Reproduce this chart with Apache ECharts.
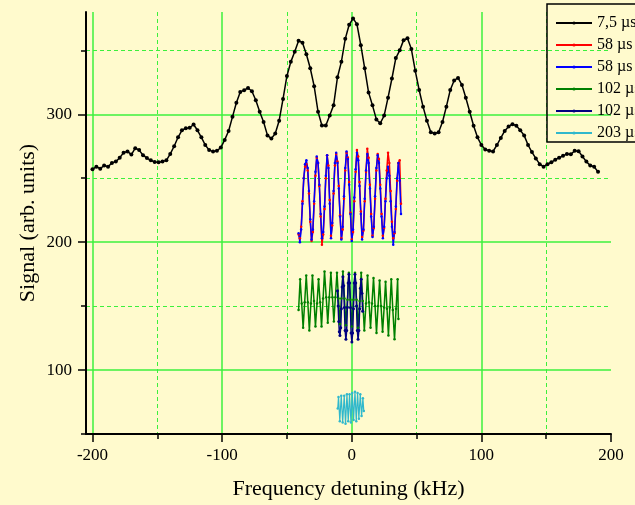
<!DOCTYPE html>
<html>
<head>
<meta charset="utf-8">
<script src="https://cdn.jsdelivr.net/npm/echarts@6/dist/echarts.min.js"></script>
<style>
html,body{margin:0;padding:0;background:#FFFACD;}
#chart{width:635px;height:505px;}
</style>
</head>
<body>
<div id="chart"></div>
<script>
// ---------------- data ----------------
const legendNames = ['7,5 µs', '58 µs', '58 µs ', '102 µs', '102 µs ', '203 µs'];

const xMajorTicks = [-200, -100, 0, 100, 200];
const xMinorTicks = [-150, -50, 50, 150];
const yMajorTicks = [100, 200, 300];
const yMinorTicks = [50, 150, 250, 350];

// 7,5 µs
const freq75 = [-200,-197,-194,-191,-188,-185,-182,-179,-176,-173,-170,-167,-164,-161,-158,-155,-152,-149,-146,-143,
  -140,-137,-134,-131,-128,-125,-122,-119,-116,-113,-110,-107,-104,-101,-98,-95,-92,-89,-86,-83,
  -80,-77,-74,-71,-68,-65,-62,-59,-56,-53,-50,-47,-44,-41,-38,-35,-32,-29,-26,-23,
  -20,-17,-14,-11,-8,-5,-2,1,4,7,10,13,16,19,22,25,28,31,34,37,
  40,43,46,49,52,55,58,61,64,67,70,73,76,79,82,85,88,91,94,97,
  100,103,106,109,112,115,118,121,124,127,130,133,136,139,142,145,148,151,154,157,
  160,163,166,169,172,175,178,181,184,187,190];
const sig75 = [257,259,257.5,260,259,262,263,266,270,271,268.5,273.5,272,268,265.8,264,262.7,262.5,263,264,
  269,275,282,287.5,289,289.5,292,287.5,282,276,272,271,271.5,274,280,287,298,309,317.5,318.8,
  320.6,318,311,302,294,283.5,281,285,295,312,330,341,349,357.5,356,347,336,322,302,291.3,
  291.3,299,307,329,341,359,370,375,370.5,354,336,317,307,296,293,299,313,328,344,350,
  358,359.5,351,334,319,306,295,286,285,286,294,306,319,326.5,328.4,323,313,302,291,282,
  276,272.5,271.5,271,276,281.5,287,290.5,292.3,291,287.5,283.5,276,270.5,265.5,261,259,261,262.5,264.5,
  266,267.5,269,268.7,271.5,271.2,267,263,260,259,255];

// 58 µs (red and blue)
const freq58 = [-41,-40,-39,-38,-37,-36,-35,-34,-33,-32,-31,-30,-29,-28,-27,-26,-25,-24,-23,-22,
  -21,-20,-19,-18,-17,-16,-15,-14,-13,-12,-11,-10,-9,-8,-7,-6,-5,-4,-3,-2,
  -1,0,1,2,3,4,5,6,7,8,9,10,11,12,13,14,15,16,17,18,
  19,20,21,22,23,24,25,26,27,28,29,30,31,32,33,34,35,36,37,38];
const sig58red = [206,203,212,232,250,259,261,256,238,216,
  201,208,230,252,266,262,244,220,198,206,
  226,250,268,260,233,205,213,238,260,269,
  263,244,221,203,210,234,256,270,266,247,
  223,202,208,232,255,272,267,247,224,204,
  209,232,255,273,266,245,222,205,211,234,
  256,269,265,245,222,205,211,234,256,270,
  262,240,216,203,207,226,248,262,264,230];
const sig58blue = [207,200,210,230,250,261,264,258,240,218,
  202,210,232,255,267,262,245,222,203,208,
  228,252,268,258,230,203,215,240,262,270,
  262,242,220,202,212,236,258,271,265,245,
  222,201,210,235,257,270,264,244,222,202,
  210,234,256,269,262,242,220,204,212,236,
  258,268,262,242,220,203,212,232,250,259,
  252,232,212,198,208,228,250,262,248,222];

// 102 µs (green, wide scan)
const freq102a = [-41,-39.8,-38.6,-37.5,-36.3,-35.1,-33.9,-32.7,-31.5,-30.3,
  -29.1,-28,-26.8,-25.6,-24.4,-23.3,-22.1,-21,-19.7,-18.5,
  -17.3,-16.1,-14.9,-13.8,-12.6,-11.4,-10.2,-9.1,-8,-6.8,
  -5.6,-4.5,-3.3,-2.2,-1,0.1,1.3,2.5,3.7,4.9,
  6.1,7.3,8.5,9.7,11,12.2,13.3,14.5,15.6,16.8,
  18,19.1,20.3,21.5,22.6,23.8,25,26.1,27.2,28.3,
  29.4,30.5,31.7,33,34.2,35.4,36];
const sig102a = [147,171,152,133,153,174,153,131,152,174,
  154,134,152,171,153,134,156,177,157,137,
  157,176,157,138,157,176,156,136,156,177,
  156,135,155,176,155,134,155,176,155,133,
  154,176,154,131,152,174,153,133,152,172,
  150,129,150,170,150,130,149,169,148,127,
  149,171,147,124,148,171,140];

// 102 µs (navy, narrow scan)
const freq102b = [-11,-10.5,-10,-9.6,-9.1,-8.5,-8,-7.4,-6.8,-6.2,
  -5.7,-5.1,-4.5,-3.9,-3.4,-2.8,-2.2,-1.6,-1,-0.5,
  0.1,0.7,1.3,1.9,2.5,3.1,3.7,4.3,4.9,5.5,
  6.1,6.7,7.3,7.9,8.4];
const sig102b = [162,150,138,130,127,133,148,165,173,166,
  149,131,124,131,149,168,175,168,149,129,
  122,129,148,168,175,168,150,131,124,131,
  148,164,171,160,146];

// 203 µs (cyan)
const freq203 = [-10.8,-10.2,-9.2,-8.1,-7,-5.8,-4.8,-3.7,-2.7,-1.7,-0.6,0.4,1.4,2.5,3.5,4.5,5.5,6.6,7.6,8.6,9.3];
const sig203 = [70,79,60,80,59,80,58,81,60,81,59,82,61,83,60,82,62,81,64,78,68];

// ---------------- chart ----------------
const zip = (xs, ys) => xs.map((x, i) => [x, ys[i]]);
const GRID_GREEN = '#3CF03C';
const SERIF = '"Liberation Serif", "Times New Roman", serif';

function lineSeries(name, xs, ys, color, symbolSize, width) {
  return {
    name: name, type: 'line', data: zip(xs, ys),
    xAxisIndex: 0, yAxisIndex: 0,
    symbol: 'circle', symbolSize: symbolSize, showSymbol: true,
    lineStyle: {color: color, width: width},
    itemStyle: {color: color},
    emphasis: {disabled: true},
    animation: false
  };
}

const chart = echarts.init(document.getElementById('chart'), null, {renderer: 'canvas'});
chart.setOption({
  backgroundColor: '#FFFACD',
  animation: false,
  grid: {left: 86, right: 24, top: 12, bottom: 69},
  legend: {
    orient: 'vertical', left: 547, top: 4,
    itemWidth: 36, itemHeight: 4, itemGap: 6,
    padding: [11, 50, 1, 8],
    borderColor: '#000', borderWidth: 1.5,
    textStyle: {fontFamily: SERIF, fontSize: 16, color: '#000'},
    data: legendNames,
    selectedMode: false
  },
  xAxis: [{
    type: 'value', min: -205, max: 200, position: 'bottom',
    name: 'Frequency detuning (kHz)', nameLocation: 'middle', nameGap: 44,
    nameMoveOverlap: false,
    nameTextStyle: {fontFamily: SERIF, fontSize: 22, color: '#000'},
    axisLine: {onZero: false, lineStyle: {color: '#000', width: 2}},
    axisTick: {customValues: xMajorTicks, length: 8, lineStyle: {color: '#000', width: 1.5}},
    axisLabel: {customValues: xMajorTicks, fontFamily: SERIF, fontSize: 17, color: '#000', margin: 13},
    splitLine: {show: true, showMaxLine: false, lineStyle: {color: GRID_GREEN, width: 1.5}}
  }, {
    type: 'value', min: -205, max: 200, position: 'bottom',
    axisLine: {show: false, onZero: false},
    axisTick: {customValues: xMinorTicks, length: 5, lineStyle: {color: '#000', width: 1.5}},
    axisLabel: {show: false},
    splitLine: {show: true, lineStyle: {color: GRID_GREEN, width: 1, type: [4, 3]}}
  }],
  yAxis: [{
    type: 'value', min: 50, max: 380, position: 'left',
    name: 'Signal (arb. units)', nameLocation: 'middle', nameGap: 47,
    nameMoveOverlap: false,
    nameTextStyle: {fontFamily: SERIF, fontSize: 22, color: '#000'},
    axisLine: {onZero: false, lineStyle: {color: '#000', width: 2}},
    axisTick: {customValues: yMajorTicks, length: 8, lineStyle: {color: '#000', width: 1.5}},
    axisLabel: {customValues: yMajorTicks, fontFamily: SERIF, fontSize: 17, color: '#000', margin: 14},
    splitLine: {show: true, lineStyle: {color: GRID_GREEN, width: 1.5}}
  }, {
    type: 'value', min: 50, max: 380, position: 'left',
    axisLine: {show: false, onZero: false},
    axisTick: {customValues: yMinorTicks, length: 5, lineStyle: {color: '#000', width: 1.5}},
    axisLabel: {show: false},
    splitLine: {show: true, showMinLine: false, lineStyle: {color: GRID_GREEN, width: 1, type: [4, 3]}}
  }],
  series: [
    lineSeries(legendNames[0], freq75, sig75, '#000000', 4, 1.5),
    lineSeries(legendNames[1], freq58, sig58red, '#FF0000', 2.5, 1.5),
    lineSeries(legendNames[2], freq58, sig58blue, '#0000FF', 2.5, 1.5),
    lineSeries(legendNames[3], freq102a, sig102a, '#008000', 2.5, 1.5),
    lineSeries(legendNames[4], freq102b, sig102b, '#000080', 3, 1.5),
    lineSeries(legendNames[5], freq203, sig203, '#30B8CC', 2.5, 1.2)
  ]
});
</script>
</body>
</html>
